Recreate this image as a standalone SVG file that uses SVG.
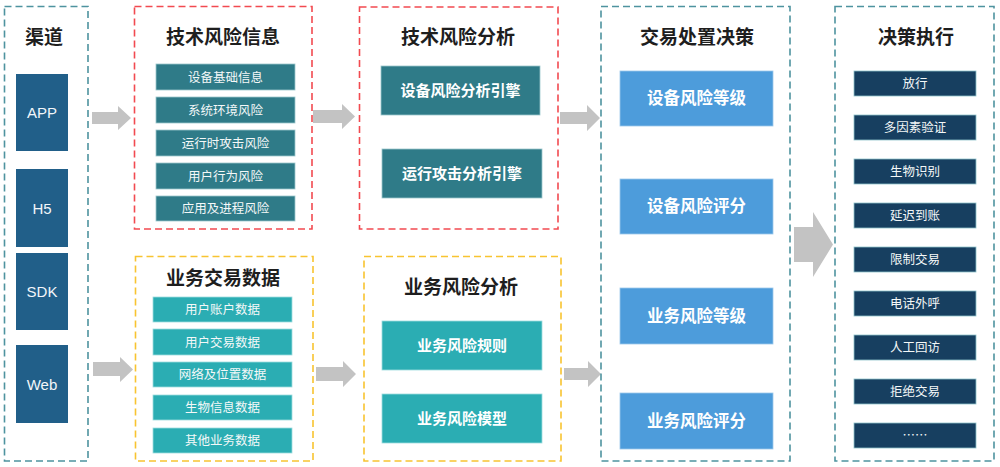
<svg xmlns="http://www.w3.org/2000/svg" width="1000" height="467" viewBox="0 0 1000 467">
<style>
.frame{fill:none;stroke-width:1.6;stroke-dasharray:7 4}
.teal{stroke:#4E939F}
.red{stroke:#F24A50}
.yel{stroke:#F8C430}
.title{font-family:"Noto Sans CJK SC","Noto Sans",sans-serif;font-weight:bold;font-size:19px;fill:#1E1E1E;text-anchor:middle}
.ch{fill:#215F89}
.chT{font-family:"Liberation Sans",Arial,sans-serif;font-size:15px;fill:#F2F6FA;text-anchor:middle}
.dt{fill:#2F7B88;stroke:#9CC7CC;stroke-width:0.8}
.lt{fill:#2BADB3;stroke:#9FDCDF;stroke-width:0.8}
.bl{fill:#4D9CDB;stroke:#9CC9EC;stroke-width:0.8}
.nv{fill:#173F60;stroke:#8FC3CB;stroke-width:0.8}
.s{font-family:"Noto Sans CJK SC","Noto Sans",sans-serif;font-size:12.5px;fill:#F4F8F8;text-anchor:middle}
.b{font-family:"Noto Sans CJK SC","Noto Sans",sans-serif;font-size:15px;font-weight:bold;fill:#FFFFFF;text-anchor:middle}
.b2{font-family:"Noto Sans CJK SC","Noto Sans",sans-serif;font-size:16.5px;font-weight:bold;fill:#FFFFFF;text-anchor:middle}
.arr{fill:#C3C3C3}
</style>

<g id="connectors">
<polygon class="arr" points="92,112 118,112 118,106 131,118 118,130 118,124 92,124"/>
<polygon class="arr" points="93,362 120,362 120,357 133,369.5 120,382 120,376 93,376"/>
<polygon class="arr" points="313,110 342,110 342,104 355,116.5 342,129 342,123 313,123"/>
<polygon class="arr" points="316,367 343,367 343,361 356,374 343,387 343,381 316,381"/>
<polygon class="arr" points="560,112 587,112 587,105 600,118 587,131 587,124 560,124"/>
<polygon class="arr" points="564,368 588,368 588,361 601,374 588,387 588,380 564,380"/>
<polygon class="arr" points="794,227 813,227 813,212 833,244.5 813,277 813,262 794,262"/>
</g>

<g id="channels">
<rect class="frame teal" x="4.5" y="6.5" width="83.5" height="454.5"/>
<text class="title" x="44" y="44">渠道</text>
<g id="ch-app"><rect class="ch" x="16" y="74" width="52" height="77"/><text class="chT" x="42" y="118">APP</text></g>
<g id="ch-h5"><rect class="ch" x="16" y="169" width="52" height="78"/><text class="chT" x="42" y="214">H5</text></g>
<g id="ch-sdk"><rect class="ch" x="16" y="253" width="52" height="77"/><text class="chT" x="42" y="297">SDK</text></g>
<g id="ch-web"><rect class="ch" x="16" y="345" width="52" height="78"/><text class="chT" x="42" y="390">Web</text></g>
</g>

<g id="tech-info">
<rect class="frame red" x="134.5" y="6.5" width="177.5" height="222.5"/>
<text class="title" x="223" y="44">技术风险信息</text>
<g id="ti-1"><rect class="dt" x="156" y="64" width="139" height="26"/><text class="s" x="225.5" y="81.5">设备基础信息</text></g>
<g id="ti-2"><rect class="dt" x="156" y="97" width="139" height="26"/><text class="s" x="225.5" y="114.5">系统环境风险</text></g>
<g id="ti-3"><rect class="dt" x="156" y="130" width="139" height="26"/><text class="s" x="225.5" y="147.5">运行时攻击风险</text></g>
<g id="ti-4"><rect class="dt" x="156" y="163" width="139" height="26"/><text class="s" x="225.5" y="180.5">用户行为风险</text></g>
<g id="ti-5"><rect class="dt" x="156" y="196" width="139" height="25"/><text class="s" x="225.5" y="213">应用及进程风险</text></g>
</g>

<g id="biz-data">
<rect class="frame yel" x="135.5" y="256.5" width="177.5" height="204.5"/>
<text class="title" x="223" y="285">业务交易数据</text>
<g id="bd-1"><rect class="lt" x="153" y="297" width="139" height="25"/><text class="s" x="222.5" y="314">用户账户数据</text></g>
<g id="bd-2"><rect class="lt" x="153" y="329" width="139" height="26"/><text class="s" x="222.5" y="346.5">用户交易数据</text></g>
<g id="bd-3"><rect class="lt" x="153" y="362" width="139" height="25"/><text class="s" x="222.5" y="379">网络及位置数据</text></g>
<g id="bd-4"><rect class="lt" x="153" y="395" width="139" height="25"/><text class="s" x="222.5" y="412">生物信息数据</text></g>
<g id="bd-5"><rect class="lt" x="153" y="428" width="139" height="25"/><text class="s" x="222.5" y="445">其他业务数据</text></g>
</g>

<g id="tech-analysis">
<rect class="frame red" x="359.5" y="7" width="198.5" height="222"/>
<text class="title" x="458" y="44">技术风险分析</text>
<g id="ta-1"><rect class="dt" x="381" y="66" width="159" height="49"/><text class="b" x="460.5" y="96">设备风险分析引擎</text></g>
<g id="ta-2"><rect class="dt" x="382" y="149" width="160" height="49"/><text class="b" x="462" y="179">运行攻击分析引擎</text></g>
</g>

<g id="biz-analysis">
<rect class="frame yel" x="364" y="256.5" width="197" height="204.5"/>
<text class="title" x="461" y="294">业务风险分析</text>
<g id="ba-1"><rect class="lt" x="382" y="321" width="160" height="49"/><text class="b" x="462" y="351">业务风险规则</text></g>
<g id="ba-2"><rect class="lt" x="382" y="394" width="160" height="49"/><text class="b" x="462" y="424">业务风险模型</text></g>
</g>

<g id="decision">
<rect class="frame teal" x="601" y="6.5" width="189" height="454.5"/>
<text class="title" x="697" y="44">交易处置决策</text>
<g id="dc-1"><rect class="bl" x="620" y="71" width="153" height="55"/><text class="b2" x="696.5" y="104">设备风险等级</text></g>
<g id="dc-2"><rect class="bl" x="620" y="179" width="153" height="55"/><text class="b2" x="696.5" y="212">设备风险评分</text></g>
<g id="dc-3"><rect class="bl" x="620" y="288" width="153" height="56"/><text class="b2" x="696.5" y="322">业务风险等级</text></g>
<g id="dc-4"><rect class="bl" x="620" y="393" width="153" height="56"/><text class="b2" x="696.5" y="427">业务风险评分</text></g>
</g>

<g id="execution">
<rect class="frame teal" x="835" y="6.5" width="159" height="454.5"/>
<text class="title" x="916" y="44">决策执行</text>
<g id="ex-1"><rect class="nv" x="854" y="71" width="122" height="25"/><text class="s" x="915" y="88">放行</text></g>
<g id="ex-2"><rect class="nv" x="854" y="115" width="122" height="25"/><text class="s" x="915" y="132">多因素验证</text></g>
<g id="ex-3"><rect class="nv" x="854" y="159" width="122" height="25"/><text class="s" x="915" y="176">生物识别</text></g>
<g id="ex-4"><rect class="nv" x="854" y="203" width="122" height="25"/><text class="s" x="915" y="220">延迟到账</text></g>
<g id="ex-5"><rect class="nv" x="854" y="247" width="122" height="25"/><text class="s" x="915" y="264">限制交易</text></g>
<g id="ex-6"><rect class="nv" x="854" y="291" width="122" height="25"/><text class="s" x="915" y="308">电话外呼</text></g>
<g id="ex-7"><rect class="nv" x="854" y="335" width="122" height="25"/><text class="s" x="915" y="352">人工回访</text></g>
<g id="ex-8"><rect class="nv" x="854" y="379" width="122" height="25"/><text class="s" x="915" y="396">拒绝交易</text></g>
<g id="ex-9"><rect class="nv" x="854" y="423" width="122" height="25"/><text class="s" x="915" y="440">……</text></g>
</g>
</svg>
